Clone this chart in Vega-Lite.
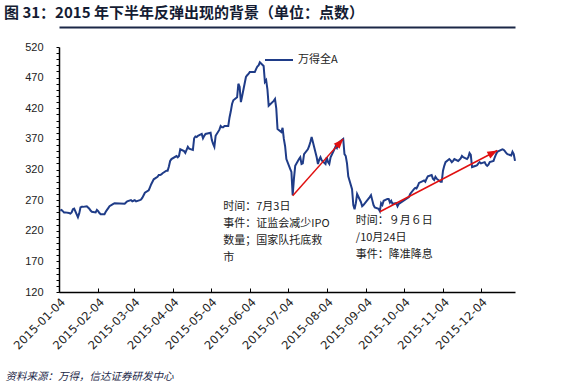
{
  "$schema": "https://vega.github.io/schema/vega-lite/v6.json",
  "width": 456,
  "height": 245,
  "autosize": {"type": "none"},
  "padding": {"left": 59, "top": 47, "right": 49, "bottom": 93},
  "background": "white",
  "title": {
    "text": "图 31：2015 年下半年反弹出现的背景（单位：点数）",
    "anchor": "start",
    "frame": "group",
    "dx": -55,
    "dy": -2,
    "offset": 4,
    "fontSize": 15,
    "fontWeight": "bold",
    "color": "#141c33",
    "font": "Noto Sans CJK SC"
  },
  "config": {
    "view": {"stroke": null},
    "font": "Noto Sans CJK SC",
    "axis": {"grid": false, "domainColor": "#000", "tickColor": "#000", "labelFont": "Liberation Sans", "labelColor": "#222", "labelOverlap": false, "labelFlush": false}
  },
  "resolve": {"axis": {"y": "independent", "x": "independent"}},
  "datasets": {
    "series": [
      {"d": "2015-01-05", "v": 253}, {"d": "2015-01-06", "v": 254}, {"d": "2015-01-07", "v": 252}, {"d": "2015-01-08", "v": 250}, {"d": "2015-01-09", "v": 250},
      {"d": "2015-01-12", "v": 249}, {"d": "2015-01-13", "v": 248}, {"d": "2015-01-14", "v": 250}, {"d": "2015-01-15", "v": 255}, {"d": "2015-01-16", "v": 256},
      {"d": "2015-01-19", "v": 242}, {"d": "2015-01-20", "v": 248}, {"d": "2015-01-21", "v": 258}, {"d": "2015-01-22", "v": 259}, {"d": "2015-01-23", "v": 259},
      {"d": "2015-01-26", "v": 260}, {"d": "2015-01-27", "v": 258}, {"d": "2015-01-28", "v": 256}, {"d": "2015-01-29", "v": 253}, {"d": "2015-01-30", "v": 251},
      {"d": "2015-02-02", "v": 250}, {"d": "2015-02-03", "v": 254}, {"d": "2015-02-04", "v": 252}, {"d": "2015-02-05", "v": 249}, {"d": "2015-02-06", "v": 247},
      {"d": "2015-02-09", "v": 247}, {"d": "2015-02-10", "v": 251}, {"d": "2015-02-11", "v": 254}, {"d": "2015-02-12", "v": 257}, {"d": "2015-02-13", "v": 260},
      {"d": "2015-02-16", "v": 264}, {"d": "2015-02-17", "v": 265}, {"d": "2015-02-25", "v": 264}, {"d": "2015-02-26", "v": 266}, {"d": "2015-02-27", "v": 268},
      {"d": "2015-03-02", "v": 270}, {"d": "2015-03-03", "v": 268}, {"d": "2015-03-04", "v": 269}, {"d": "2015-03-05", "v": 270}, {"d": "2015-03-06", "v": 268},
      {"d": "2015-03-09", "v": 270}, {"d": "2015-03-10", "v": 271}, {"d": "2015-03-11", "v": 274}, {"d": "2015-03-12", "v": 278}, {"d": "2015-03-13", "v": 282},
      {"d": "2015-03-16", "v": 286}, {"d": "2015-03-17", "v": 291}, {"d": "2015-03-18", "v": 296}, {"d": "2015-03-19", "v": 300}, {"d": "2015-03-20", "v": 304},
      {"d": "2015-03-23", "v": 308}, {"d": "2015-03-24", "v": 311}, {"d": "2015-03-25", "v": 311}, {"d": "2015-03-26", "v": 312}, {"d": "2015-03-27", "v": 314},
      {"d": "2015-03-30", "v": 318}, {"d": "2015-03-31", "v": 318}, {"d": "2015-04-01", "v": 325}, {"d": "2015-04-02", "v": 334}, {"d": "2015-04-03", "v": 337},
      {"d": "2015-04-07", "v": 342}, {"d": "2015-04-08", "v": 340}, {"d": "2015-04-09", "v": 342}, {"d": "2015-04-10", "v": 353}, {"d": "2015-04-13", "v": 350},
      {"d": "2015-04-14", "v": 347}, {"d": "2015-04-15", "v": 352}, {"d": "2015-04-16", "v": 357}, {"d": "2015-04-17", "v": 354}, {"d": "2015-04-20", "v": 352},
      {"d": "2015-04-21", "v": 371}, {"d": "2015-04-22", "v": 374}, {"d": "2015-04-23", "v": 373}, {"d": "2015-04-24", "v": 375}, {"d": "2015-04-27", "v": 378},
      {"d": "2015-04-28", "v": 371}, {"d": "2015-04-29", "v": 375}, {"d": "2015-04-30", "v": 378}, {"d": "2015-05-04", "v": 380}, {"d": "2015-05-05", "v": 368},
      {"d": "2015-05-06", "v": 362}, {"d": "2015-05-07", "v": 357}, {"d": "2015-05-08", "v": 375}, {"d": "2015-05-11", "v": 385}, {"d": "2015-05-12", "v": 391},
      {"d": "2015-05-13", "v": 389}, {"d": "2015-05-14", "v": 389}, {"d": "2015-05-15", "v": 391}, {"d": "2015-05-18", "v": 391}, {"d": "2015-05-19", "v": 405},
      {"d": "2015-05-20", "v": 415}, {"d": "2015-05-21", "v": 427}, {"d": "2015-05-22", "v": 433}, {"d": "2015-05-25", "v": 438}, {"d": "2015-05-26", "v": 460},
      {"d": "2015-05-27", "v": 455}, {"d": "2015-05-28", "v": 430}, {"d": "2015-05-29", "v": 440}, {"d": "2015-06-01", "v": 471}, {"d": "2015-06-02", "v": 474},
      {"d": "2015-06-03", "v": 476}, {"d": "2015-06-04", "v": 479}, {"d": "2015-06-05", "v": 479}, {"d": "2015-06-08", "v": 479}, {"d": "2015-06-09", "v": 484},
      {"d": "2015-06-10", "v": 488}, {"d": "2015-06-11", "v": 490}, {"d": "2015-06-12", "v": 495}, {"d": "2015-06-15", "v": 489}, {"d": "2015-06-16", "v": 463},
      {"d": "2015-06-17", "v": 466}, {"d": "2015-06-18", "v": 451}, {"d": "2015-06-19", "v": 424}, {"d": "2015-06-23", "v": 432}, {"d": "2015-06-24", "v": 435},
      {"d": "2015-06-25", "v": 420}, {"d": "2015-06-26", "v": 386}, {"d": "2015-06-29", "v": 381}, {"d": "2015-06-30", "v": 388}, {"d": "2015-07-01", "v": 370},
      {"d": "2015-07-02", "v": 358}, {"d": "2015-07-03", "v": 337}, {"d": "2015-07-06", "v": 321}, {"d": "2015-07-07", "v": 316}, {"d": "2015-07-08", "v": 278},
      {"d": "2015-07-09", "v": 305}, {"d": "2015-07-10", "v": 326}, {"d": "2015-07-13", "v": 337}, {"d": "2015-07-14", "v": 340}, {"d": "2015-07-15", "v": 329},
      {"d": "2015-07-16", "v": 330}, {"d": "2015-07-17", "v": 345}, {"d": "2015-07-20", "v": 353}, {"d": "2015-07-21", "v": 358}, {"d": "2015-07-22", "v": 365},
      {"d": "2015-07-23", "v": 373}, {"d": "2015-07-24", "v": 365}, {"d": "2015-07-27", "v": 340}, {"d": "2015-07-28", "v": 329}, {"d": "2015-07-29", "v": 336},
      {"d": "2015-07-30", "v": 340}, {"d": "2015-07-31", "v": 335}, {"d": "2015-08-03", "v": 329}, {"d": "2015-08-04", "v": 340}, {"d": "2015-08-05", "v": 332},
      {"d": "2015-08-06", "v": 329}, {"d": "2015-08-07", "v": 340}, {"d": "2015-08-10", "v": 353}, {"d": "2015-08-11", "v": 358}, {"d": "2015-08-12", "v": 355},
      {"d": "2015-08-13", "v": 362}, {"d": "2015-08-14", "v": 365}, {"d": "2015-08-17", "v": 370}, {"d": "2015-08-18", "v": 345}, {"d": "2015-08-19", "v": 342},
      {"d": "2015-08-20", "v": 330}, {"d": "2015-08-21", "v": 309}, {"d": "2015-08-24", "v": 288}, {"d": "2015-08-25", "v": 262}, {"d": "2015-08-26", "v": 255},
      {"d": "2015-08-27", "v": 265}, {"d": "2015-08-28", "v": 280}, {"d": "2015-08-31", "v": 267}, {"d": "2015-09-01", "v": 260}, {"d": "2015-09-02", "v": 262},
      {"d": "2015-09-07", "v": 275}, {"d": "2015-09-08", "v": 278}, {"d": "2015-09-09", "v": 270}, {"d": "2015-09-10", "v": 262}, {"d": "2015-09-11", "v": 258},
      {"d": "2015-09-14", "v": 256}, {"d": "2015-09-15", "v": 252}, {"d": "2015-09-16", "v": 265}, {"d": "2015-09-17", "v": 262}, {"d": "2015-09-18", "v": 269},
      {"d": "2015-09-21", "v": 272}, {"d": "2015-09-22", "v": 272}, {"d": "2015-09-23", "v": 266}, {"d": "2015-09-24", "v": 269}, {"d": "2015-09-25", "v": 264},
      {"d": "2015-09-28", "v": 265}, {"d": "2015-09-29", "v": 260}, {"d": "2015-09-30", "v": 264}, {"d": "2015-10-08", "v": 275}, {"d": "2015-10-09", "v": 280},
      {"d": "2015-10-12", "v": 288}, {"d": "2015-10-13", "v": 290}, {"d": "2015-10-14", "v": 289}, {"d": "2015-10-15", "v": 293}, {"d": "2015-10-16", "v": 298},
      {"d": "2015-10-19", "v": 301}, {"d": "2015-10-20", "v": 302}, {"d": "2015-10-21", "v": 300}, {"d": "2015-10-22", "v": 305}, {"d": "2015-10-23", "v": 309},
      {"d": "2015-10-26", "v": 311}, {"d": "2015-10-27", "v": 305}, {"d": "2015-10-28", "v": 303}, {"d": "2015-10-29", "v": 308}, {"d": "2015-10-30", "v": 305},
      {"d": "2015-11-02", "v": 300}, {"d": "2015-11-03", "v": 300}, {"d": "2015-11-04", "v": 318}, {"d": "2015-11-05", "v": 326}, {"d": "2015-11-06", "v": 332},
      {"d": "2015-11-09", "v": 337}, {"d": "2015-11-10", "v": 335}, {"d": "2015-11-11", "v": 332}, {"d": "2015-11-12", "v": 334}, {"d": "2015-11-13", "v": 337},
      {"d": "2015-11-16", "v": 334}, {"d": "2015-11-17", "v": 336}, {"d": "2015-11-18", "v": 338}, {"d": "2015-11-19", "v": 342}, {"d": "2015-11-20", "v": 340},
      {"d": "2015-11-23", "v": 337}, {"d": "2015-11-24", "v": 340}, {"d": "2015-11-25", "v": 347}, {"d": "2015-11-26", "v": 344}, {"d": "2015-11-27", "v": 324},
      {"d": "2015-11-30", "v": 326}, {"d": "2015-12-01", "v": 327}, {"d": "2015-12-02", "v": 330}, {"d": "2015-12-03", "v": 332}, {"d": "2015-12-04", "v": 330},
      {"d": "2015-12-07", "v": 332}, {"d": "2015-12-08", "v": 328}, {"d": "2015-12-09", "v": 326}, {"d": "2015-12-10", "v": 328}, {"d": "2015-12-11", "v": 332},
      {"d": "2015-12-14", "v": 334}, {"d": "2015-12-15", "v": 340}, {"d": "2015-12-16", "v": 345}, {"d": "2015-12-17", "v": 349}, {"d": "2015-12-18", "v": 350},
      {"d": "2015-12-21", "v": 353}, {"d": "2015-12-22", "v": 352}, {"d": "2015-12-23", "v": 350}, {"d": "2015-12-24", "v": 347}, {"d": "2015-12-25", "v": 345},
      {"d": "2015-12-28", "v": 343}, {"d": "2015-12-29", "v": 349}, {"d": "2015-12-30", "v": 345}, {"d": "2015-12-31", "v": 334}
    ],
    "arrows": [
      {"id": "a1", "d": "2015-07-08", "v": 277, "d2": "2015-08-17", "v2": 370},
      {"id": "a2", "d": "2015-09-15", "v": 251, "d2": "2015-12-17", "v2": 351}
    ],
    "notes": [
      {"d": "2015-05-14", "v": 269, "t": "时间：7月3日\n事件：证监会减少IPO\n数量；国家队托底救\n市"},
      {"d": "2015-08-27", "v": 246, "t": "时间：９月６日\n/10月24日\n事件：降准降息"}
    ]
  },
  "layer": [
    {
      "data": {"name": "series"},
      "mark": {"type": "line", "strokeWidth": 2, "clip": false},
      "encoding": {
        "x": {
          "field": "d", "type": "temporal",
          "scale": {"type": "utc", "domain": [{"year": 2015, "month": 1, "date": 4, "utc": true}, {"year": 2015, "month": 12, "date": 31, "utc": true}], "nice": false},
          "axis": {
            "orient": "bottom",
            "values": [
              {"year": 2015, "month": 1, "date": 4, "utc": true}, {"year": 2015, "month": 2, "date": 4, "utc": true},
              {"year": 2015, "month": 3, "date": 4, "utc": true}, {"year": 2015, "month": 4, "date": 4, "utc": true},
              {"year": 2015, "month": 5, "date": 4, "utc": true}, {"year": 2015, "month": 6, "date": 4, "utc": true},
              {"year": 2015, "month": 7, "date": 4, "utc": true}, {"year": 2015, "month": 8, "date": 4, "utc": true},
              {"year": 2015, "month": 9, "date": 4, "utc": true}, {"year": 2015, "month": 10, "date": 4, "utc": true},
              {"year": 2015, "month": 11, "date": 4, "utc": true}, {"year": 2015, "month": 12, "date": 4, "utc": true}
            ],
            "format": "%Y-%m-%d",
            "labelAngle": -45,
            "labelFontSize": 11.5,
            "labelFont": "DejaVu Sans",
            "tickSize": -4,
            "labelPadding": 8,
            "labelOverlap": false,
            "labelFlush": false,
            "domainWidth": 1.5,
            "title": "资料来源：万得，信达证券研发中心",
            "titleX": -54,
            "titleY": 84,
            "titleAlign": "left",
            "titleAnchor": null,
            "titleBaseline": "middle",
            "titleFontSize": 10.5,
            "titleFontWeight": "normal",
            "titleFontStyle": "italic",
            "titleColor": "#1b2747",
            "titleFont": "Noto Sans CJK SC"
          }
        },
        "y": {
          "field": "v", "type": "quantitative",
          "scale": {"domain": [120, 520], "nice": false, "zero": false},
          "axis": {
            "orient": "left",
            "values": [120, 170, 220, 270, 320, 370, 420, 470, 520],
            "labelFontSize": 11,
            "tickSize": 3,
            "labelPadding": 13,
            "domainWidth": 1.5,
            "title": null
          }
        },
        "color": {
          "datum": "万得全A",
          "scale": {"range": ["#1f3c88"]},
          "legend": {
            "orient": "none", "legendX": 205, "legendY": -2, "title": null,
            "symbolType": "stroke", "symbolSize": 784, "symbolStrokeWidth": 2,
            "labelFontSize": 11, "labelOffset": 4, "padding": 0, "labelColor": "#222"
          }
        }
      }
    },
    {
      "data": {"name": "arrows"},
      "mark": {"type": "rule", "color": "#e01010", "strokeWidth": 1.5, "clip": false},
      "encoding": {
        "x": {"field": "d", "type": "temporal", "axis": null},
        "x2": {"field": "d2"},
        "y": {"field": "v", "type": "quantitative", "axis": null},
        "y2": {"field": "v2"}
      }
    },
    {
      "data": {"name": "arrows"},
      "transform": [{"filter": "datum.id == 'a1'"}],
      "mark": {"type": "point", "shape": "M0,0L-0.55,1.4L0.55,1.4Z", "filled": true, "color": "#e01010", "size": 200, "angle": 41.5, "opacity": 1, "clip": false},
      "encoding": {
        "x": {"field": "d2", "type": "temporal", "axis": null},
        "y": {
          "field": "v2", "type": "quantitative",
          "axis": {
            "orient": "left",
            "values": [130,140,150,160,180,190,200,210,230,240,250,260,280,290,300,310,330,340,350,360,380,390,400,410,430,440,450,460,480,490,500,510],
            "labels": false,
            "domain": false,
            "tickSize": 3,
            "title": null
          }
        }
      }
    },
    {
      "data": {"name": "arrows"},
      "transform": [{"filter": "datum.id == 'a2'"}],
      "mark": {"type": "point", "shape": "M0,0L-0.55,1.4L0.55,1.4Z", "filled": true, "color": "#e01010", "size": 200, "angle": 62.5, "opacity": 1, "clip": false},
      "encoding": {
        "x": {"field": "d2", "type": "temporal", "axis": null},
        "y": {"field": "v2", "type": "quantitative", "axis": null}
      }
    },
    {
      "data": {"name": "notes"},
      "mark": {"type": "text", "align": "left", "baseline": "top", "lineBreak": "\n", "lineHeight": 17, "fontSize": 11, "color": "#222", "font": "Noto Sans CJK SC", "clip": false},
      "encoding": {
        "x": {
          "field": "d", "type": "temporal",
          "axis": {"orient": "top", "offset": 20, "ticks": false, "labels": false, "title": null, "domainColor": "#1b2747", "domainWidth": 2}
        },
        "y": {"field": "v", "type": "quantitative", "axis": null},
        "text": {"field": "t"}
      }
    }
  ]
}
